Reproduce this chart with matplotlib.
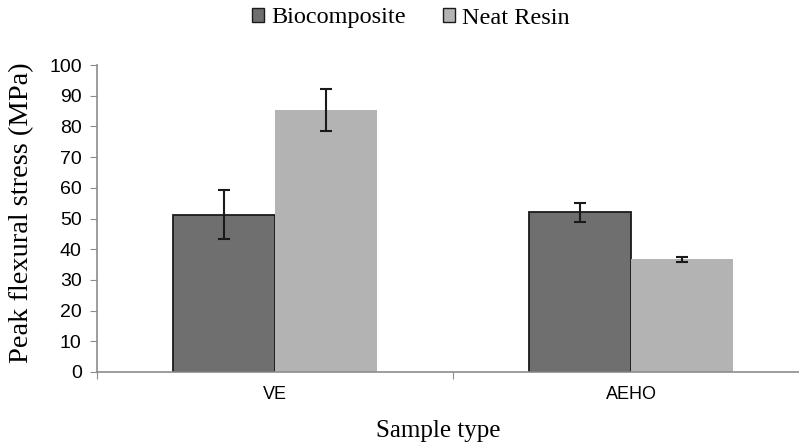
import matplotlib
matplotlib.use("Agg")
import matplotlib.pyplot as plt
import numpy as np

categories = ["VE", "AEHO"]
series_names = ["Biocomposite", "Neat Resin"]
biocomposite = [51.3, 52.0]
biocomposite_err = [8.0, 3.0]
neat_resin = [85.3, 36.7]
neat_resin_err = [6.9, 0.8]
yticks = [0, 10, 20, 30, 40, 50, 60, 70, 80, 90, 100]

fig = plt.figure(figsize=(7.99, 4.45), dpi=100)
ax = fig.add_axes([97/799, 1-372/445, 712/799, (372-65)/445])

x = np.arange(len(categories))
w = 0.2865
gray_axis = "#8c8c8c"
ax.bar(x - w/2, biocomposite, w, color="#6f6f6f", edgecolor="#1a1a1a", linewidth=1.3,
       yerr=biocomposite_err, error_kw=dict(ecolor="#1a1a1a", elinewidth=1.5, capsize=4, capthick=1.5),
       label=series_names[0], zorder=2)
ax.bar(x + w/2, neat_resin, w, color="#b3b3b3", edgecolor="none", linewidth=0,
       yerr=neat_resin_err, error_kw=dict(ecolor="#1a1a1a", elinewidth=1.5, capsize=4, capthick=1.5),
       label=series_names[1], zorder=2)

ax.set_xlim(-0.5, 1.5)
ax.set_ylim(0, 100)
ax.set_yticks(yticks)
ax.set_yticklabels([str(v) for v in yticks], fontsize=14, family="Liberation Sans")
ax.set_xticks([-0.5, 0.5, 1.5])
ax.set_xticklabels([])
ax.set_xticks(x, minor=True)
ax.set_xticklabels(categories, minor=True, fontsize=13, family="Liberation Sans")
ax.tick_params(axis="x", which="minor", length=0, pad=10)
ax.tick_params(axis="x", which="major", length=5, color=gray_axis, direction="out")
ax.tick_params(axis="y", length=5, color=gray_axis, direction="out", pad=6)

for s in ["top", "right"]:
    ax.spines[s].set_visible(False)
for s in ["left", "bottom"]:
    ax.spines[s].set_color(gray_axis)
    ax.spines[s].set_linewidth(1.2)

ax.set_ylabel("Peak flexural stress (MPa)", fontsize=20.5, family="Liberation Serif", labelpad=5)
ax.yaxis.set_label_coords(-0.088, 0.52)
ax.set_xlabel("Sample type", fontsize=18, family="Liberation Serif")
ax.xaxis.set_label_coords((438-97)/712, -0.155)

leg = fig.legend(loc="center", bbox_to_anchor=(411/799, 1-18/445), ncol=2, frameon=False,
                 prop=dict(family="Liberation Serif", size=17.5), handlelength=0.5, handleheight=0.5,
                 handletextpad=0.3, columnspacing=1.5)
for h in leg.legend_handles:
    h.set_edgecolor("#1a1a1a")
    h.set_linewidth(1.0)

fig.savefig("out.png", dpi=100)
